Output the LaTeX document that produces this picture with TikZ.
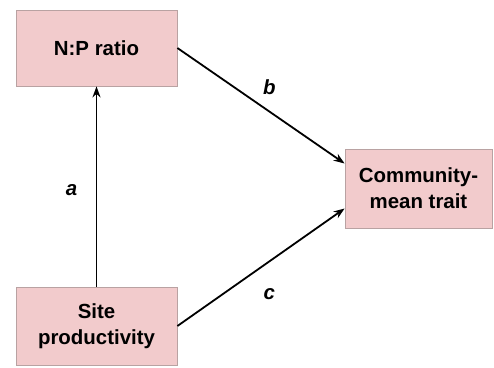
\documentclass[tikz,border=0pt]{standalone}
\usepackage{fontspec}
\setmainfont{Liberation Sans}
\usetikzlibrary{arrows.meta}
\definecolor{boxpink}{HTML}{F2CBCC}
\definecolor{boxedge}{HTML}{B9A2A2}
\begin{document}
\begin{tikzpicture}[
    x=1bp, y=-1bp,
    varbox/.style={draw=boxedge, fill=boxpink, line width=0.8bp, inner sep=0pt,
      align=center, font=\fontsize{20.5}{26}\selectfont\bfseries},
    path/.style={-{Stealth[length=11bp,width=8bp]}, line width=1.8bp, black},
    coef/.style={font=\fontsize{20.5}{24}\selectfont\bfseries\itshape}]

  \useasboundingbox (0,0) rectangle (494,367);

  % boxes
  \node [varbox, minimum width=161bp, minimum height=76bp] (np) at (96.5,48) {N:P ratio};
  \node [varbox, minimum width=147bp, minimum height=79bp] (cm) at (418.5,188.5) {Community-\\mean trait};
  \node [varbox, minimum width=161bp, minimum height=78bp] (sp) at (96.5,326) {Site\\productivity};

  % paths
  \draw [path] (sp.north) -- (np.south) node [coef, midway, left=15bp, yshift=-4bp] {a};
  \draw [path] (np.east) -- ([yshift=25bp]cm.west) node [coef, pos=0.55, above=13bp] {b};
  \draw [path] (sp.east) -- ([yshift=-20bp]cm.west) node [coef, pos=0.55, below=23bp] {c};
\end{tikzpicture}
\end{document}
